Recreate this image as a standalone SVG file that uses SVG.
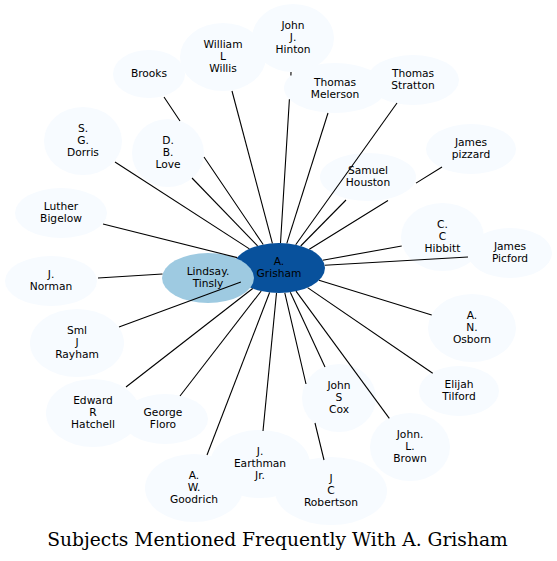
<svg xmlns="http://www.w3.org/2000/svg" width="557" height="561" viewBox="0 0 557 561">
<style>
.n ellipse{fill:#f7fbff;stroke:none}
.n text{font-family:"DejaVu Sans",sans-serif;font-size:10.67px;fill:#000;text-anchor:middle}
#grisham ellipse{fill:#08519c}
#lindsay ellipse{fill:#9ecae1}
#edges path{fill:none;stroke:#000;stroke-width:1.1}
.title{font-family:"DejaVu Serif",serif;font-size:18.67px;fill:#000;text-anchor:middle}
</style>
<rect width="557" height="561" fill="#fff"/>
<g id="nodes">
<g id="hinton" class="n"><ellipse cx="293" cy="38" rx="41" ry="34"/><text x="293" y="29.2">John</text><text x="293" y="41.2">J.</text><text x="293" y="53.2">Hinton</text></g>
<g id="willis" class="n"><ellipse cx="223" cy="57" rx="43" ry="34"/><text x="223" y="48.2">William</text><text x="223" y="60.2">L</text><text x="223" y="72.2">Willis</text></g>
<g id="brooks" class="n"><ellipse cx="149" cy="74" rx="36" ry="24"/><text x="149" y="77.2">Brooks</text></g>
<g id="melerson" class="n"><ellipse cx="335" cy="88" rx="51" ry="25"/><text x="335" y="85.5">Thomas</text><text x="335" y="97.5">Melerson</text></g>
<g id="stratton" class="n"><ellipse cx="413" cy="80" rx="46" ry="25"/><text x="413" y="77.2">Thomas</text><text x="413" y="89.2">Stratton</text></g>
<g id="pizzard" class="n"><ellipse cx="471" cy="149" rx="45" ry="25"/><text x="471" y="146.2">James</text><text x="471" y="158.2">pizzard</text></g>
<g id="houston" class="n"><ellipse cx="368" cy="177" rx="48" ry="24"/><text x="368" y="174.2">Samuel</text><text x="368" y="186.2">Houston</text></g>
<g id="hibbitt" class="n"><ellipse cx="442.5" cy="237" rx="41.5" ry="34"/><text x="442.5" y="228.2">C.</text><text x="442.5" y="240.2">C</text><text x="442.5" y="252.2">Hibbitt</text></g>
<g id="picford" class="n"><ellipse cx="510" cy="253" rx="42" ry="25"/><text x="510" y="250.2">James</text><text x="510" y="262.2">Picford</text></g>
<g id="dorris" class="n"><ellipse cx="83" cy="141" rx="39" ry="34"/><text x="83" y="132.2">S.</text><text x="83" y="144.2">G.</text><text x="83" y="156.2">Dorris</text></g>
<g id="love" class="n"><ellipse cx="168" cy="153" rx="36" ry="34"/><text x="168" y="144.2">D.</text><text x="168" y="156.2">B.</text><text x="168" y="168.2">Love</text></g>
<g id="bigelow" class="n"><ellipse cx="61" cy="213" rx="46" ry="25"/><text x="61" y="210.2">Luther</text><text x="61" y="222.2">Bigelow</text></g>
<g id="norman" class="n"><ellipse cx="51" cy="281" rx="46" ry="25"/><text x="51" y="278.2">J.</text><text x="51" y="290.2">Norman</text></g>
<g id="grisham" class="n"><ellipse cx="279" cy="268" rx="46" ry="25"/><text x="279" y="264.8">A.</text><text x="279" y="276.8">Grisham</text></g>
<g id="lindsay" class="n"><ellipse cx="208" cy="278" rx="46" ry="25"/><text x="208" y="275.2">Lindsay.</text><text x="208" y="287.2">Tinsly</text></g>
<g id="rayham" class="n"><ellipse cx="77" cy="343" rx="47" ry="34"/><text x="77" y="334.2">Sml</text><text x="77" y="346.2">J</text><text x="77" y="358.2">Rayham</text></g>
<g id="hatchell" class="n"><ellipse cx="93" cy="413" rx="47" ry="34"/><text x="93" y="404.2">Edward</text><text x="93" y="416.2">R</text><text x="93" y="428.2">Hatchell</text></g>
<g id="floro" class="n"><ellipse cx="165" cy="419" rx="43" ry="25"/><text x="163" y="416.2">George</text><text x="163" y="428.2">Floro</text></g>
<g id="goodrich" class="n"><ellipse cx="194" cy="488" rx="49" ry="34"/><text x="194" y="479.2">A.</text><text x="194" y="491.2">W.</text><text x="194" y="503.2">Goodrich</text></g>
<g id="earthman" class="n"><ellipse cx="260" cy="464" rx="50" ry="34"/><text x="260" y="455.2">J.</text><text x="260" y="467.2">Earthman</text><text x="260" y="479.2">Jr.</text></g>
<g id="robertson" class="n"><ellipse cx="331" cy="491" rx="56" ry="34"/><text x="331" y="482.2">J</text><text x="331" y="494.2">C</text><text x="331" y="506.2">Robertson</text></g>
<g id="cox" class="n"><ellipse cx="339" cy="398" rx="37" ry="34"/><text x="339" y="389.2">John</text><text x="339" y="401.2">S</text><text x="339" y="413.2">Cox</text></g>
<g id="brown" class="n"><ellipse cx="410" cy="447" rx="40" ry="34"/><text x="410" y="438.2">John.</text><text x="410" y="450.2">L.</text><text x="410" y="462.2">Brown</text></g>
<g id="tilford" class="n"><ellipse cx="459" cy="391" rx="40" ry="25"/><text x="459" y="388.2">Elijah</text><text x="459" y="400.2">Tilford</text></g>
<g id="osborn" class="n"><ellipse cx="472" cy="328" rx="44" ry="34"/><text x="472" y="319.2">A.</text><text x="472" y="331.2">N.</text><text x="472" y="343.2">Osborn</text></g>
</g>
<g id="edges">
<path d="M280.5,243 L289.4,99.2 M290.9,75.5 L291,72"/>
<path d="M272.4,243.3 L232,91"/>
<path d="M263.2,244.5 L204,157 M180,121 L164,97"/>
<path d="M257.6,245.9 L192,178"/>
<path d="M249.4,248.9 L115,162"/>
<path d="M237.2,257.6 L103,224"/>
<path d="M162.5,274 L98,278"/>
<path d="M240.9,282 L119,327"/>
<path d="M252.7,288.5 L126,387"/>
<path d="M261.2,291 L180,396"/>
<path d="M269.6,292.5 L207,455"/>
<path d="M276.5,293 L263,431"/>
<path d="M284.8,292.8 L306,384 M315,423 L324,460"/>
<path d="M290.3,292.2 L325,367"/>
<path d="M296,291.2 L389.3,418.3"/>
<path d="M307.6,287.6 L432.7,373.3"/>
<path d="M319,280.3 L431.7,315"/>
<path d="M324.7,265.3 L468,257"/>
<path d="M322.7,260.2 L401.7,246"/>
<path d="M300.7,246 L346,200"/>
<path d="M309.3,249.2 L388,200.5 M416,183.1 L442,167"/>
<path d="M295.7,244.7 L397,103"/>
<path d="M286.8,243.4 L328,113"/>
</g>
<text class="title" x="277.5" y="545.5">Subjects Mentioned Frequently With A. Grisham</text>
</svg>
